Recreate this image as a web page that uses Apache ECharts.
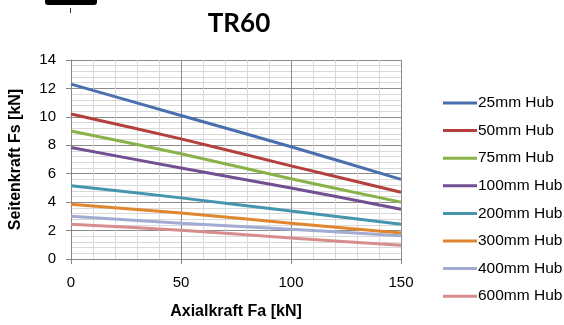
<!DOCTYPE html>
<html><head><meta charset="utf-8">
<script src="https://cdn.jsdelivr.net/npm/echarts@6/dist/echarts.min.js"></script>
<style>html,body{margin:0;padding:0;background:#fff}#c{width:564px;height:325px}</style>
</head><body><div id="c"></div>
<script>
const xValues = [0, 50, 100, 150];
const seriesNames = ['25mm Hub','50mm Hub','75mm Hub','100mm Hub','200mm Hub','300mm Hub','400mm Hub','600mm Hub'];
const s25  = [12.3, 10.1, 7.9, 5.6];
const s50  = [10.2, 8.45, 6.55, 4.7];
const s75  = [9.0, 7.4, 5.65, 4.0];
const s100 = [7.85, 6.4, 5.0, 3.5];
const s200 = [5.15, 4.3, 3.37, 2.45];
const s300 = [3.85, 3.23, 2.52, 1.83];
const s400 = [3.0, 2.52, 2.1, 1.64];
const s600 = [2.45, 2.03, 1.48, 0.97];
const yTicks = [0,2,4,6,8,10,12,14];
const xTicks = [0,50,100,150];
const colors = ['#4A6FAE','#B3403D','#8AB24A','#714F92','#4595AE','#E0862E','#A2ACD2','#D68E8C'];
const allSeries = [s25,s50,s75,s100,s200,s300,s400,s600];

const chart = echarts.init(document.getElementById('c'));
const font = 'Liberation Sans, Arial, sans-serif';
chart.setOption({
  animation:false,
  color: colors,
  title:{text:'TR60', left:234, top:6, textAlign:'center',
    textStyle:{fontFamily:'Lato, Open Sans, sans-serif', fontWeight:'bold', fontSize:26, color:'#000'}},
  graphic:[
    {type:'rect', shape:{x:45,y:-4,width:52,height:9,r:3}, style:{fill:'#000'}},
    {type:'rect', shape:{x:70,y:8,width:1,height:5}, style:{fill:'#333'}}
  ],
  legend:{orient:'vertical', left:438, top:90, itemWidth:34, itemHeight:16, itemGap:11.6,
    icon:'path://M0,0 L34,0 L34,3 L0,3 Z',
    textStyle:{fontFamily:font, fontSize:15.5, lineHeight:16, color:'#000', padding:[0,0,0,-4]},
    data: seriesNames},
  grid:{left:71, right:163, top:60, bottom:63},
  xAxis:{type:'value', min:0, max:150, interval:50,
    name:'Axialkraft Fa [kN]', nameLocation:'middle', nameGap:45,
    nameTextStyle:{fontFamily:font, fontWeight:'bold', fontSize:16, color:'#000'},
    axisLine:{show:true, onZero:false, lineStyle:{color:'#868686', width:1}},
    axisTick:{show:true, length:5, lineStyle:{color:'#868686'}},
    axisLabel:{fontFamily:font, fontSize:15, color:'#000', margin:16,
      formatter:v=>xTicks.includes(v)?String(v):''},
    splitLine:{show:true, lineStyle:{color:'#8c8c8c', width:1}},
    minorTick:{show:false, splitNumber:5},
    minorSplitLine:{show:true, lineStyle:{color:'#d9d9d9', width:1}}},
  yAxis:{type:'value', min:0, max:14, interval:2,
    name:'Seitenkraft Fs [kN]', nameLocation:'middle', nameGap:47,
    nameTextStyle:{fontFamily:font, fontWeight:'bold', fontSize:16, color:'#000'},
    axisLine:{show:true, lineStyle:{color:'#868686', width:1}},
    axisTick:{show:true, length:5, lineStyle:{color:'#868686'}},
    axisLabel:{fontFamily:font, fontSize:15, color:'#000', margin:15,
      formatter:v=>yTicks.includes(v)?String(v):''},
    splitLine:{show:true, lineStyle:{color:'#8c8c8c', width:1}},
    minorTick:{show:false, splitNumber:5},
    minorSplitLine:{show:true, lineStyle:{color:'#d9d9d9', width:1}}},
  series: seriesNames.map((n,i)=>({
    name:n, type:'line', showSymbol:false, symbol:'none', smooth:0.3,
    lineStyle:{width:3, color:colors[i]},
    data: xValues.map((x,j)=>[x, allSeries[i][j]])
  }))
});
</script></body></html>
